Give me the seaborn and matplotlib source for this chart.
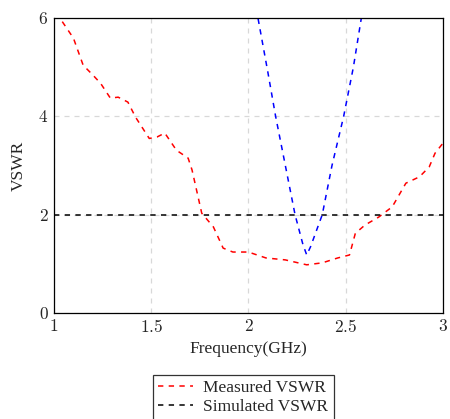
import numpy as np
import pandas as pd
import matplotlib
matplotlib.use('Agg')
import matplotlib.pyplot as plt
import seaborn as sns

sns.set_style('white')
plt.rcParams['font.family'] = ['Liberation Serif', 'DejaVu Serif']
plt.rcParams['mathtext.fontset'] = 'cm'

# measured VSWR
meas_freq = [1.00, 1.03, 1.10, 1.15, 1.20, 1.24, 1.29, 1.33, 1.38, 1.42, 1.49, 1.53,
             1.57, 1.63, 1.69, 1.71, 1.76, 1.82, 1.87, 1.92, 2.00, 2.09, 2.19, 2.30,
             2.38, 2.46, 2.52, 2.55, 2.60, 2.67, 2.74, 2.81, 2.88, 2.93, 2.96, 3.00]
meas_vswr = [6.05, 6.00, 5.59, 5.04, 4.84, 4.67, 4.37, 4.39, 4.29, 3.98, 3.55, 3.58,
             3.66, 3.31, 3.15, 2.91, 2.03, 1.75, 1.32, 1.24, 1.24, 1.12, 1.08, 0.98,
             1.02, 1.12, 1.18, 1.62, 1.79, 1.95, 2.16, 2.64, 2.77, 2.97, 3.25, 3.45]

# blue V-shaped curve
sim_freq = [2.04, 2.10, 2.14, 2.19, 2.24, 2.28, 2.30, 2.32, 2.38, 2.43, 2.49, 2.54, 2.585]
sim_vswr = [6.2, 4.9, 4.0, 3.0, 2.0, 1.4, 1.18, 1.35, 2.0, 3.0, 4.0, 5.0, 6.1]

# reference level
ref_freq = [1.0, 3.0]
ref_vswr = [2.0, 2.0]

fig = plt.figure(figsize=(4.5, 4.19), dpi=100)
ax = fig.add_axes([0.12, 0.253, 0.864, 0.704])

dash = (3.5, 3.5)
sns.lineplot(x=meas_freq, y=meas_vswr, ax=ax, color='#ff0000', lw=1.1,
             label='Measured VSWR', sort=False)
sns.lineplot(x=ref_freq, y=ref_vswr, ax=ax, color='black', lw=1.1,
             label='Simulated VSWR', sort=False)
sns.lineplot(x=sim_freq, y=sim_vswr, ax=ax, color='#0000ff', lw=1.1, sort=False)
for ln in ax.lines:
    ln.set_dashes(dash)

ax.set_xlim(1, 3)
ax.set_ylim(0, 6)
ax.set_xticks([1, 1.5, 2, 2.5, 3])
ax.set_xticklabels(['$1$', '$1.5$', '$2$', '$2.5$', '$3$'])
ax.set_yticks([0, 2, 4, 6])
ax.set_yticklabels(['$0$', '$2$', '$4$', '$6$'])
ax.tick_params(direction='in', length=4, color='#555555', labelsize=12.5, pad=4)
ax.grid(True, color='#d8d8d8', linestyle=(0, (4, 4)), lw=0.9)
ax.set_axisbelow(True)
for s in ax.spines.values():
    s.set_color('black')
    s.set_linewidth(0.9)

ax.set_xlabel('Frequency(GHz)', fontsize=12.5, labelpad=4)
ax.set_ylabel('VSWR', fontsize=12.5, labelpad=8)

leg = ax.legend(loc='upper center', bbox_to_anchor=(0.487, -0.18), fontsize=12.5,
                frameon=True, fancybox=False, edgecolor='black', handlelength=2.0,
                borderpad=0.3, labelspacing=0.15, handletextpad=0.6)
leg.get_frame().set_linewidth(0.9)

fig.savefig('out.png', dpi=100)
